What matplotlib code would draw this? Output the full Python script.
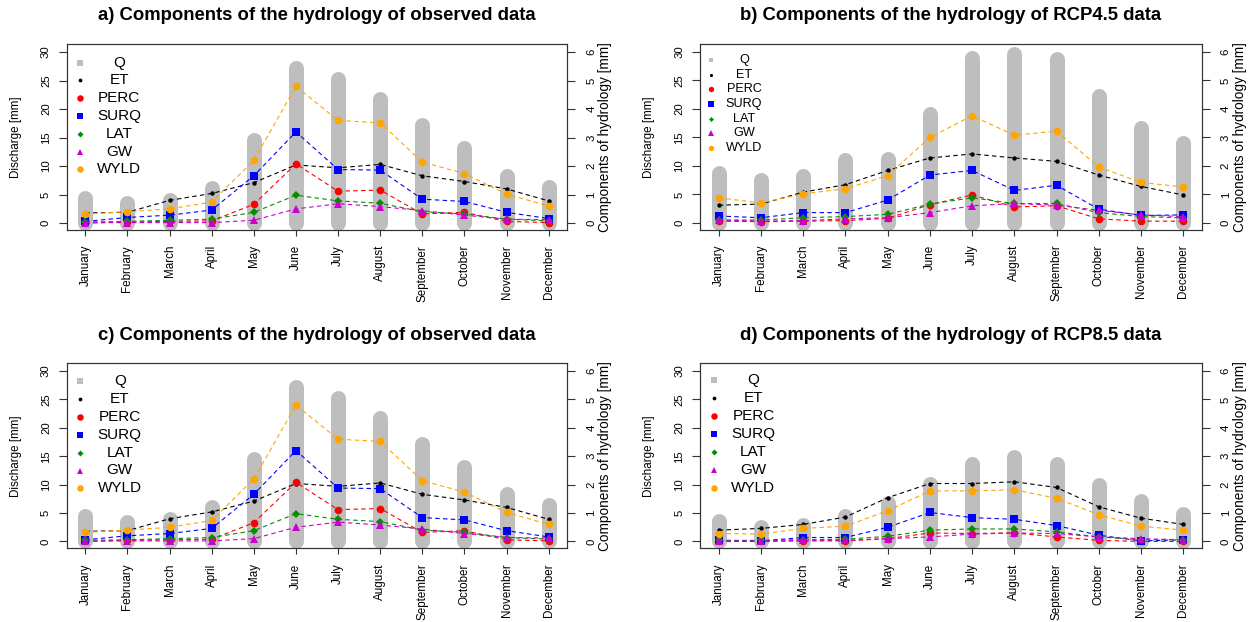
import matplotlib
matplotlib.use("Agg")
import matplotlib.pyplot as plt

plt.rcParams['font.family'] = ['Liberation Sans', 'DejaVu Sans']

months = ['January', 'February', 'March', 'April', 'May', 'June', 'July',
          'August', 'September', 'October', 'November', 'December']

# observed (panels a and c) - discharge on left axis, components on right axis
obs_q = [4.4, 3.5, 4.0, 6.1, 14.5, 27.2, 25.2, 21.7, 17.2, 13.1, 8.3, 6.4]
obs_et = [0.36, 0.38, 0.80, 1.04, 1.42, 2.04, 1.94, 2.06, 1.66, 1.46, 1.20, 0.78]
obs_perc = [0.00, 0.04, 0.06, 0.08, 0.66, 2.08, 1.12, 1.16, 0.32, 0.38, 0.06, 0.02]
obs_surq = [0.06, 0.20, 0.28, 0.46, 1.66, 3.20, 1.88, 1.86, 0.84, 0.76, 0.38, 0.16]
obs_lat = [0.04, 0.06, 0.10, 0.14, 0.38, 0.98, 0.78, 0.70, 0.40, 0.32, 0.14, 0.08]
obs_gw = [0.02, 0.02, 0.02, 0.02, 0.10, 0.50, 0.68, 0.58, 0.44, 0.28, 0.14, 0.12]
obs_wyld = [0.32, 0.40, 0.50, 0.74, 2.20, 4.80, 3.60, 3.52, 2.14, 1.74, 1.02, 0.60]

# RCP4.5
r45_q = [8.8, 7.6, 8.2, 11.1, 11.3, 19.1, 29.0, 29.7, 28.8, 22.3, 16.7, 14.1]
r45_et = [0.62, 0.66, 1.08, 1.34, 1.84, 2.28, 2.42, 2.28, 2.16, 1.68, 1.28, 0.98]
r45_perc = [0.06, 0.04, 0.06, 0.08, 0.16, 0.64, 0.98, 0.56, 0.60, 0.14, 0.06, 0.06]
r45_surq = [0.24, 0.18, 0.36, 0.36, 0.80, 1.68, 1.84, 1.14, 1.32, 0.48, 0.26, 0.28]
r45_lat = [0.10, 0.10, 0.18, 0.22, 0.30, 0.66, 0.88, 0.68, 0.68, 0.36, 0.22, 0.18]
r45_gw = [0.10, 0.06, 0.08, 0.14, 0.18, 0.36, 0.60, 0.68, 0.62, 0.44, 0.28, 0.22]
r45_wyld = [0.88, 0.70, 1.02, 1.20, 1.66, 3.00, 3.76, 3.08, 3.22, 1.96, 1.42, 1.26]

# RCP8.5
r85_q = [3.6, 2.6, 2.9, 4.5, 6.8, 10.2, 13.7, 14.9, 13.7, 9.9, 7.1, 4.9]
r85_et = [0.40, 0.46, 0.60, 0.86, 1.54, 2.04, 2.04, 2.10, 1.90, 1.22, 0.82, 0.60]
r85_perc = [0.00, 0.00, 0.02, 0.02, 0.10, 0.30, 0.28, 0.30, 0.16, 0.04, 0.00, 0.00]
r85_surq = [0.04, 0.02, 0.14, 0.14, 0.50, 1.02, 0.84, 0.78, 0.56, 0.22, 0.02, 0.06]
r85_lat = [0.04, 0.04, 0.06, 0.08, 0.18, 0.40, 0.44, 0.44, 0.34, 0.16, 0.06, 0.06]
r85_gw = [0.02, 0.02, 0.04, 0.04, 0.10, 0.16, 0.26, 0.30, 0.28, 0.16, 0.10, 0.06]
r85_wyld = [0.28, 0.26, 0.46, 0.54, 1.08, 1.78, 1.78, 1.82, 1.52, 0.94, 0.54, 0.40]

names = ['ET', 'PERC', 'SURQ', 'LAT', 'GW', 'WYLD']
colors = ['black', '#FF0000', '#0000FF', '#009000', '#CC00CC', '#FFA500']
markers = ['o', 'o', 's', 'D', '^', 'o']
msizes = [3.2, 5.5, 5.2, 3.6, 5.8, 5.5]
gray = '#BEBEBE'
edge = '#333333'

W, H = 1254, 622
fig = plt.figure(figsize=(W / 100, H / 100), dpi=100)


def panel(left, top, width, height, title, q, comps, leg):
    ax = fig.add_axes([left / W, (H - top - height) / H, width / W, height / H])
    x = list(range(1, 13))
    ax.vlines(x, 0, q, colors=gray, lw=10.8, capstyle='round', zorder=1)
    ax.set_xlim(0.56, 12.44)
    ax.set_ylim(-1.2, 31.35)
    ax.set_xticks(x, months, rotation=90, fontsize=8.4, va='top', ha='center')
    ax.tick_params(axis='x', length=4, pad=6.8, width=0.8, color=edge)
    ax.set_yticks(range(0, 31, 5), [str(v) for v in range(0, 31, 5)],
                  rotation=90, va='center', ha='center', fontsize=8.2)
    ax.tick_params(axis='y', length=5.8, pad=9.2, width=0.8, color=edge)

    ax2 = ax.twinx()
    ax2.set_ylim(-0.24, 6.27)
    ax2.set_yticks(range(7), [str(v) for v in range(7)],
                   rotation=90, va='center', ha='center', fontsize=8.2)
    ax2.tick_params(axis='y', length=5.8, pad=11.5, width=0.8, color=edge)
    for a in (ax, ax2):
        for s in a.spines.values():
            s.set_linewidth(0.8)
            s.set_color(edge)

    for vals, c, m, ms in zip(comps, colors, markers, msizes):
        ax2.plot(x, vals, color=c, lw=0.8, ls=(0, (4, 3)), marker=m, ms=ms,
                 mec=c, mew=0)

    ax.text(0.5, 1 + 28.3 / height, title, transform=ax.transAxes,
            ha='center', va='center', fontsize=13.3, fontweight='bold')
    ax.text(-50.8 / width, 0.5, 'Discharge [mm]', transform=ax.transAxes,
            rotation=90, ha='center', va='center', fontsize=8.4)
    ax.text(1 + 38 / width, 0.5, 'Components of hydrology [mm]',
            transform=ax.transAxes, rotation=90, ha='center', va='center',
            fontsize=9.8)

    # legend drawn by hand so labels are centred like the original
    mx, tx, ltop, step, k = leg
    items = [('Q', gray, 's', 4.2)] + [
        (n, c, m, s * 0.85) for n, c, m, s in zip(names, colors, markers, msizes)]
    for i, (n, c, m, s) in enumerate(items):
        yy = 1 - (ltop + i * step) / height
        ax2.plot([mx / width], [yy], transform=ax2.transAxes, ls='none',
                 marker=m, ms=s * k, color=c, mew=0, clip_on=False)
        ax2.text(tx / width, yy, n, transform=ax2.transAxes, ha='center',
                 va='center', fontsize=11 * k)


panel(66.8, 44.3, 500.4, 185.7, 'a) Components of the hydrology of observed data',
      obs_q, [obs_et, obs_perc, obs_surq, obs_lat, obs_gw, obs_wyld],
      (13.2, 52.5, 18.4, 17.8, 1.0))
panel(700.2, 44.3, 501.6, 185.4, 'b) Components of the hydrology of RCP4.5 data',
      r45_q, [r45_et, r45_perc, r45_surq, r45_lat, r45_gw, r45_wyld],
      (10.8, 43.8, 15.7, 14.7, 0.83))
panel(66.8, 363.3, 500.4, 185.0, 'c) Components of the hydrology of observed data',
      obs_q, [obs_et, obs_perc, obs_surq, obs_lat, obs_gw, obs_wyld],
      (13.2, 53.0, 17.7, 17.9, 1.0))
panel(700.2, 363.3, 501.6, 185.0, 'd) Components of the hydrology of RCP8.5 data',
      r85_q, [r85_et, r85_perc, r85_surq, r85_lat, r85_gw, r85_wyld],
      (13.6, 53.2, 17.0, 18.0, 1.0))

fig.savefig('out.png', dpi=100)
